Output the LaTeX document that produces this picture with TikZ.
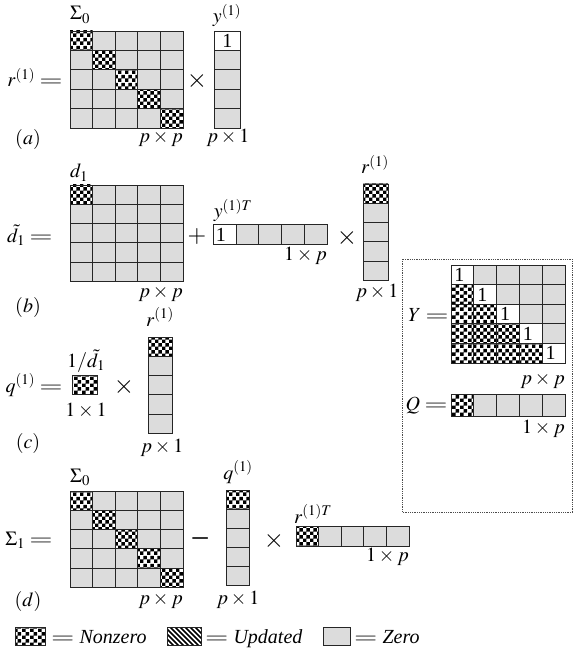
\documentclass[tikz,border=0pt]{standalone}
\usepackage{mathptmx}
\usepackage{fontspec}
\setmainfont{Liberation Serif}
\usetikzlibrary{patterns}
\definecolor{zerofill}{HTML}{DCDCDC}
\definecolor{gridline}{HTML}{262626}
\pgfdeclarepatternformonly{chequer}{\pgfpointorigin}{\pgfqpoint{7.4pt}{7.4pt}}{\pgfqpoint{7.4pt}{7.4pt}}{%
  \pgfpathrectangle{\pgfpointorigin}{\pgfqpoint{3.7pt}{3.7pt}}%
  \pgfpathrectangle{\pgfqpoint{3.7pt}{3.7pt}}{\pgfqpoint{3.7pt}{3.7pt}}%
  \pgfusepath{fill}}
\pgfdeclarepatternformonly{hatch}{\pgfqpoint{-1pt}{-1pt}}{\pgfqpoint{6pt}{6pt}}{\pgfqpoint{5pt}{5pt}}{%
  \pgfsetlinewidth{1.5pt}%
  \pgfpathmoveto{\pgfqpoint{-0.1pt}{5.1pt}}\pgfpathlineto{\pgfqpoint{5.1pt}{-0.1pt}}%
  \pgfusepath{stroke}}
\tikzset{
  gcell/.style={draw=gridline,line width=0.9pt},
  zcell/.style={gcell,fill=zerofill},
  nzcell/.style={gcell,preaction={fill=white},pattern=chequer},
  onecell/.style={gcell,fill=white},
  updcell/.style={gcell,preaction={fill=white},pattern=hatch},
  eqn/.style={font=\fontsize{20}{22}\selectfont,inner sep=0pt},
  keytext/.style={eqn,font=\fontsize{20}{22}\selectfont\itshape},
  panel/.style={draw=black!70,densely dotted,line width=0.8pt},
}
\newcommand{\weq}{\scalebox{1.5}[1]{$=$}}
\newcommand{\wtimes}{\scalebox{1.3}{$\times$}}

\begin{document}
\begin{tikzpicture}[x=1pt,y=-1pt]
\useasboundingbox (0,0) rectangle (573,652);

% (a) r = Sigma_0 x y
\begin{scope}[shift={(70,31)}]
  \foreach \r in {0,...,4}
    \foreach \c in {0,...,4}
      \draw[zcell] (\c*22.6,\r*19.4) rectangle ++(22.6,19.4);
  \foreach \k in {0,...,4}
    \draw[nzcell] (\k*22.6,\k*19.4) rectangle ++(22.6,19.4);
\end{scope}
\begin{scope}[shift={(214,31)}]
  \foreach \r in {1,...,4}
    \draw[zcell] (0,\r*19.4) rectangle ++(26,19.4);
\end{scope}
\node[onecell,eqn,anchor=north west,minimum width=26pt,minimum height=19.4pt] (ya) at (214,31) {1};

\node[eqn,anchor=base east] (rlhs) at (63,87) {$r^{(1)}\mathrel{\weq}$};
\node[eqn,anchor=base west] (sigA) at (70,20) {$\Sigma_0$};
\node[eqn,anchor=base] (ylab) at (227,23) {$y^{(1)}$};
\node[eqn] (timesA) at (197,81) {\wtimes};
\node[eqn,anchor=base east] (dimA1) at (183,143) {$p\times p$};
\node[eqn,anchor=base] (dimA2) at (228,143) {$p\times 1$};
\node[eqn,anchor=base] (tagA) at (28,145) {$(a)$};

% (b) d~ = d + y^T x r
\begin{scope}[shift={(70,185)}]
  \foreach \r in {0,...,4}
    \foreach \c in {0,...,4}
      \draw[zcell] (\c*22.6,\r*19.3) rectangle ++(22.6,19.3);
  \draw[nzcell] (0,0) rectangle ++(22.6,19.3);
\end{scope}
\begin{scope}[shift={(213,224)}]
  \foreach \c in {1,...,4}
    \draw[zcell] (\c*22.8,0) rectangle ++(22.8,20);
\end{scope}
\node[onecell,eqn,anchor=north west,minimum width=22.8pt,minimum height=20pt,align=left,text width=18pt] (yT) at (213,224) {1};
\begin{scope}[shift={(363,184)}]
  \foreach \r in {1,...,4}
    \draw[zcell] (0,\r*19.3) rectangle ++(25,19.3);
  \draw[nzcell] (0,0) rectangle ++(25,19.3);
\end{scope}

\node[eqn,anchor=base east] (dlhs) at (53,242) {$\tilde{d}_1\mathrel{\weq}$};
\node[eqn,anchor=base west] (dlab) at (70,178) {$d_1$};
\node[eqn] (plusB) at (197,237) {\scalebox{1.2}{$+$}};
\node[eqn,anchor=base] (yTlab) at (233,218) {$y^{(1)T}$};
\node[eqn,anchor=base east] (dimB1) at (327,260) {$1\times p$};
\node[eqn] (timesB) at (347,238) {\wtimes};
\node[eqn,anchor=base] (rlabB) at (375,174) {$r^{(1)}$};
\node[eqn,anchor=base east] (dimB2) at (183,297) {$p\times p$};
\node[eqn,anchor=base] (dimB3) at (377,297) {$p\times 1$};
\node[eqn,anchor=base] (tagB) at (28,312) {$(b)$};

% (c) q = 1/d~ x r
\draw[nzcell] (72,375) rectangle (97,394);
\begin{scope}[shift={(148,337)}]
  \foreach \r in {1,...,4}
    \draw[zcell] (0,\r*19.3) rectangle ++(24,19.3);
  \draw[nzcell] (0,0) rectangle ++(24,19.3);
\end{scope}

\node[eqn,anchor=base east] (qlhs) at (63,392) {$q^{(1)}\mathrel{\weq}$};
\node[eqn,anchor=base] (invd) at (86,367) {$1/\tilde{d}_1$};
\node[eqn,anchor=base] (dimC1) at (86,416) {$1\times 1$};
\node[eqn] (timesC) at (124,387) {\wtimes};
\node[eqn,anchor=base] (rlabC) at (160,326) {$r^{(1)}$};
\node[eqn,anchor=base] (dimC2) at (162,452) {$p\times 1$};
\node[eqn,anchor=base] (tagC) at (28,448) {$(c)$};

% (d) Sigma_1 = Sigma_0 - q x r^T
\begin{scope}[shift={(70,491)}]
  \foreach \r in {0,...,4}
    \foreach \c in {0,...,4}
      \draw[zcell] (\c*22.6,\r*19.3) rectangle ++(22.6,19.3);
  \foreach \k in {0,...,4}
    \draw[nzcell] (\k*22.6,\k*19.3) rectangle ++(22.6,19.3);
\end{scope}
\begin{scope}[shift={(226,490)}]
  \foreach \r in {1,...,4}
    \draw[zcell] (0,\r*19.1) rectangle ++(23,19.1);
  \draw[nzcell] (0,0) rectangle ++(23,19.1);
\end{scope}
\begin{scope}[shift={(296,526)}]
  \foreach \c in {1,...,4}
    \draw[zcell] (\c*22.6,0) rectangle ++(22.6,20);
  \draw[nzcell] (0,0) rectangle ++(22.6,20);
\end{scope}

\node[eqn,anchor=base east] (slhs) at (53,545) {$\Sigma_1\mathrel{\weq}$};
\node[eqn,anchor=base west] (sigD) at (70,482) {$\Sigma_0$};
\node[eqn] (minusD) at (201,538) {\scalebox{1.3}[2]{$-$}};
\node[eqn,anchor=base] (qlab) at (238,479) {$q^{(1)}$};
\node[eqn] (timesD) at (274,541) {\wtimes};
\node[eqn,anchor=base] (rTlab) at (313,523) {$r^{(1)T}$};
\node[eqn,anchor=base east] (dimD1) at (409,561) {$1\times p$};
\node[eqn,anchor=base east] (dimD2) at (183,604) {$p\times p$};
\node[eqn,anchor=base] (dimD3) at (238,604) {$p\times 1$};
\node[eqn,anchor=base] (tagD) at (28,606) {$(d)$};

% stored factors Y and Q
\draw[panel] (402,259) rectangle (572,512);
\begin{scope}[shift={(451,265)}]
  \foreach \r in {0,...,4}
    \foreach \c in {0,...,4}
      \draw[zcell] (\c*22.8,\r*19.6) rectangle ++(22.8,19.6);
  \foreach \r in {1,...,4}
    \foreach \c in {1,...,\r}
      \draw[nzcell] (\c*22.8-22.8,\r*19.6) rectangle ++(22.8,19.6);
  \foreach \k in {0,...,4}
    \draw[onecell] (\k*22.8,\k*19.6) rectangle ++(22.8,19.6)
      node[eqn,anchor=west] at (\k*22.8+3,\k*19.6+9.8) {1};
\end{scope}
\begin{scope}[shift={(451,394)}]
  \foreach \c in {1,...,4}
    \draw[zcell] (\c*22.8,0) rectangle ++(22.8,22);
  \draw[nzcell] (0,0) rectangle ++(22.8,22);
\end{scope}

\node[eqn,anchor=base east] (Ylhs) at (449,321) {$Y\mathrel{\weq}$};
\node[eqn,anchor=base east] (dimY) at (565,384) {$p\times p$};
\node[eqn,anchor=base east] (Qlhs) at (448,410) {$Q\mathrel{\weq}$};
\node[eqn,anchor=base east] (dimQ) at (565,433) {$1\times p$};

% legend
\draw[nzcell] (15,627) rectangle (45,645);
\node[keytext,anchor=base west] (keyNZ) at (51,643) {\weq\ Nonzero};
\draw[updcell] (167,627) rectangle (201,645);
\node[keytext,anchor=base west] (keyUP) at (205,643) {\weq\ Updated};
\draw[zcell] (323,627) rectangle (350,645);
\node[keytext,anchor=base west] (keyZ) at (354,643) {\weq\ Zero};

\end{tikzpicture}
\end{document}
